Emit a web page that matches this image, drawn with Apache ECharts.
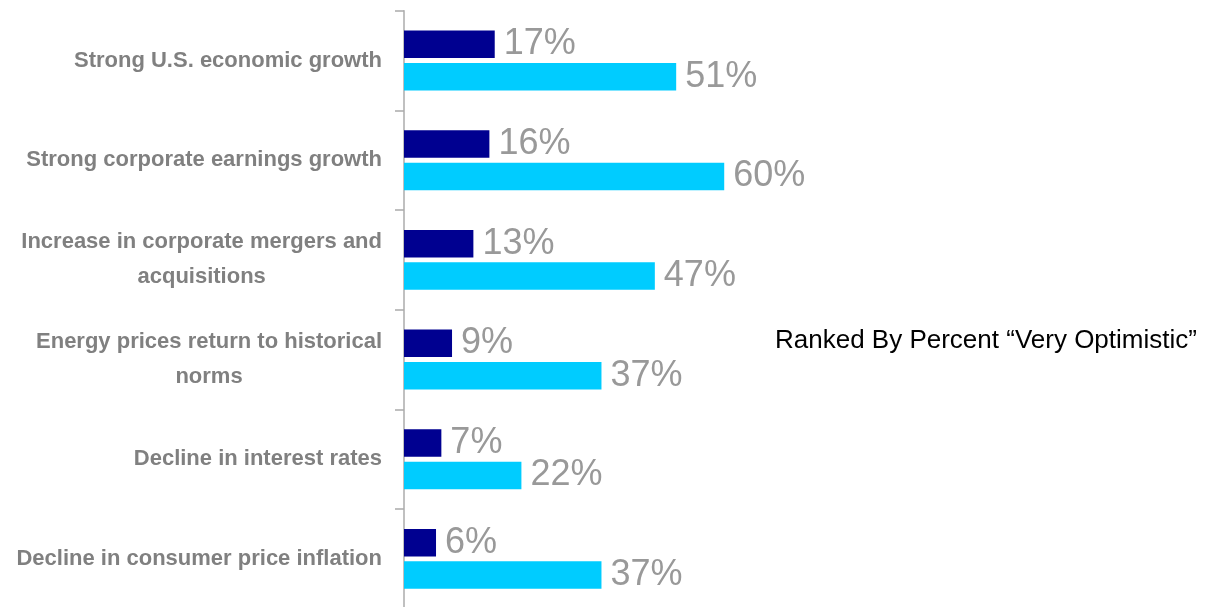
<!DOCTYPE html>
<html>
<head>
<meta charset="utf-8">
<script src="https://cdn.jsdelivr.net/npm/echarts@6/dist/echarts.min.js"></script>
<style>
  html, body { margin: 0; padding: 0; background: #fff; }
  #chart { width: 1211px; height: 607px; }
</style>
</head>
<body>
<div id="chart"></div>
<script>
// Drivers of optimism, listed top to bottom
const categories = [
  'Strong U.S. economic growth',
  'Strong corporate earnings growth',
  'Increase in corporate mergers and\nacquisitions',
  'Energy prices return to historical\nnorms',
  'Decline in interest rates',
  'Decline in consumer price inflation'
];
// Percent "very optimistic"
const veryOptimistic = [17, 16, 13, 9, 7, 6];
// Percent optimistic overall
const optimistic = [51, 60, 47, 37, 22, 37];

const chart = echarts.init(document.getElementById('chart'));

const valueLabel = {
  show: true,
  position: 'right',
  distance: 9,
  formatter: '{c}%',
  color: '#999999',
  fontSize: 36,
  fontFamily: 'Liberation Sans, Arial, sans-serif'
};

const catFont = {
  color: '#808080',
  fontSize: 22,
  fontWeight: 'bold',
  fontFamily: 'Liberation Sans, Arial, sans-serif',
  lineHeight: 35
};

chart.setOption({
  animation: false,
  title: {
    text: 'Ranked By Percent \u201CVery Optimistic\u201D',
    left: 770,
    top: 323,
    textStyle: {
      color: '#000000',
      fontSize: 26,
      fontWeight: 'normal',
      fontFamily: 'Liberation Sans, Arial, sans-serif'
    }
  },
  grid: {
    left: 404, top: 10.7, width: 533.7, height: 598,
    containLabel: false, outerBoundsMode: 'none'
  },
  xAxis: {
    type: 'value',
    min: 0,
    max: 100,
    show: false
  },
  yAxis: {
    type: 'category',
    inverse: true,
    data: categories,
    axisLine: { show: true, lineStyle: { color: '#ababab', width: 1.5 } },
    axisTick: { show: true, length: 9, lineStyle: { color: '#ababab', width: 1.5 } },
    axisLabel: Object.assign({
      margin: 22,
      formatter: function (v) {
        return v.split('\n').map(function (s) { return '{c|' + s + '}'; }).join('\n');
      },
      rich: { c: Object.assign({ align: 'center' }, catFont) }
    }, catFont),
    splitLine: { show: false }
  },
  series: [
    {
      name: 'Very optimistic',
      type: 'bar',
      data: veryOptimistic,
      barWidth: 27.5,
      barGap: '18%',
      itemStyle: { color: '#000090' },
      label: valueLabel
    },
    {
      name: 'Optimistic',
      type: 'bar',
      data: optimistic,
      barWidth: 27.5,
      itemStyle: { color: '#00CCFF' },
      label: valueLabel
    }
  ]
});
</script>
</body>
</html>
